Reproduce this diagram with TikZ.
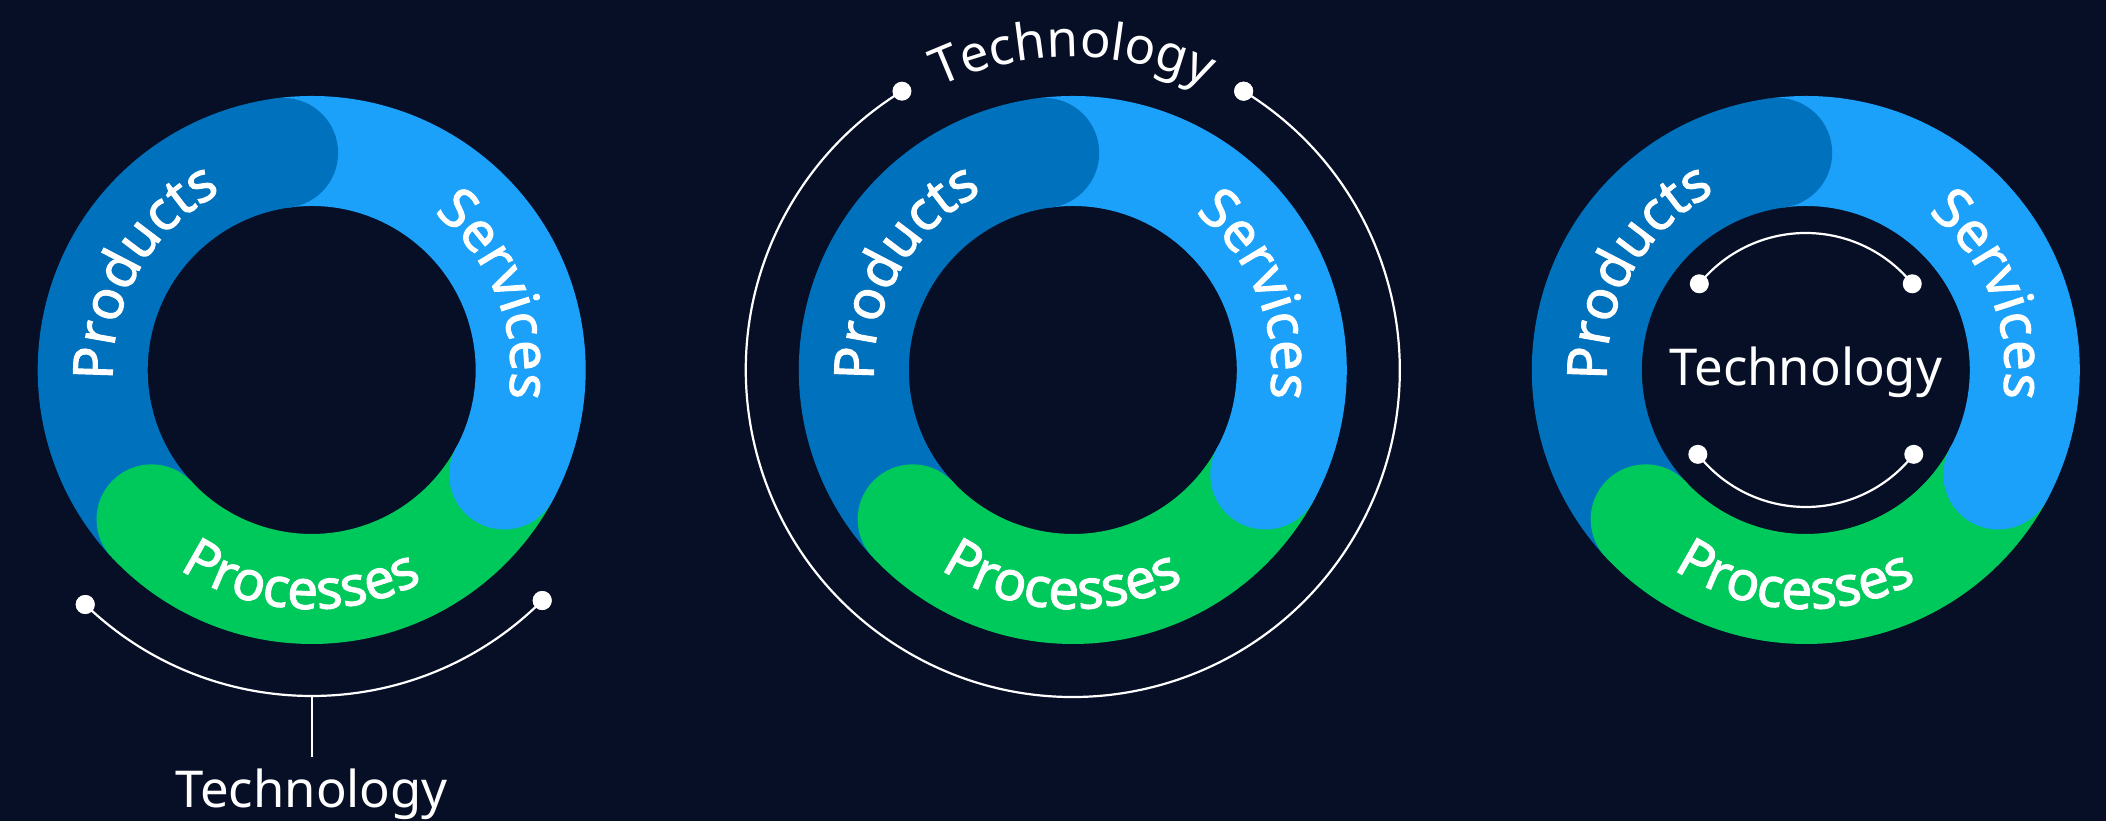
\documentclass[tikz,border=0pt]{standalone}
\usepackage{fontspec}
\setmainfont{Noto Sans}
\newfontfamily\bandfont[FakeBold=1.8]{Noto Sans}
\usetikzlibrary{calc,decorations.text}

\definecolor{bgnavy}{HTML}{070F26}
\definecolor{prodblue}{HTML}{0071BC}
\definecolor{servblue}{HTML}{1CA1FB}
\definecolor{procgreen}{HTML}{00C95B}

\tikzset{
  band/.style={line width=110bp},
  techline/.style={draw=white,line width=2.2bp},
  techdot/.style={circle,fill=white,inner sep=0pt,minimum size=19bp},
  techlabel/.style={text=white,inner sep=0pt,font=\fontsize{51}{60}\selectfont},
  bandtext/.style={decorate,decoration={text along path,text align=center,text color=white,
    text={|\bandfont\fontsize{55}{64}\selectfont|#1}}},
  arctext/.style={decorate,decoration={text along path,text align=center,text color=white,
    text={|\fontsize{51}{60}\selectfont|#1}}}
}

\begin{document}
\begin{tikzpicture}[x=1bp,y=1bp]
% Background
\fill[bgnavy] (0,0) rectangle (2106,821);
\useasboundingbox (0,0) rectangle (2106,821);

% Rings: three bands, round ends on top, labels along the band
\foreach \cx [count=\i] in {311.7,1072.8,1805.8}{
  \coordinate (ring\i) at (\cx,451);
  \draw[band,prodblue] ($(ring\i)+(223:219)$) arc[start angle=223,end angle=97.5,radius=219];
  \draw[band,servblue] ($(ring\i)+(97.5:219)$) arc[start angle=97.5,end angle=-28.5,radius=219];
  \draw[band,procgreen] ($(ring\i)+(-28.5:219)$) arc[start angle=-28.5,end angle=-137,radius=219];
  \fill[prodblue] ($(ring\i)+(97.5:219)$) circle[radius=55];
  \fill[servblue] ($(ring\i)+(-28.5:219)$) circle[radius=55];
  \fill[procgreen] ($(ring\i)+(223:219)$) circle[radius=55];
  \path[bandtext=Products] ($(ring\i)+(210:199)$) arc[start angle=210,end angle=90,radius=199];
  \path[bandtext=Services] ($(ring\i)+(82:199)$) arc[start angle=82,end angle=-38,radius=199];
  \path[bandtext=Processes] ($(ring\i)+(207:239)$) arc[start angle=207,end angle=327,radius=239];
}

% Technology below
\node[techdot] (low1a) at ($(ring1)+(226:326)$) {};
\node[techdot] (low1b) at ($(ring1)+(315:326)$) {};
\coordinate (low1m) at ($(ring1)+(270:326)$);
\draw[techline] (low1a.center) arc[start angle=226,end angle=315,radius=326];
\node[techlabel,anchor=base] (tech1) at ($(ring1)+(0,-438)$) {Technology};
\draw[techline,shorten >=12bp] (low1m) -- (tech1);
\node[techdot] at (low1a) {};
\node[techdot] at (low1b) {};

% Technology around
\node[techdot] (top2a) at ($(ring2)+(121.5:327)$) {};
\node[techdot] (top2b) at ($(ring2)+(58.5:327)$) {};
\draw[techline] (top2b.center) arc[start angle=58.5,end angle=-238.5,radius=327];
\node[techdot] at (top2b) {};
\path[arctext=Technology] ($(ring2)+(150:313)$) arc[start angle=150,end angle=30,radius=313];

% Technology inside
\node[techdot] (in3a) at ($(ring3)+(141:137)$) {};
\node[techdot] (in3b) at ($(ring3)+(39:137)$) {};
\node[techdot] (in3c) at ($(ring3)+(218:137)$) {};
\node[techdot] (in3d) at ($(ring3)+(322:137)$) {};
\draw[techline] (in3a.center) arc[start angle=141,end angle=39,radius=137];
\draw[techline] (in3c.center) arc[start angle=218,end angle=322,radius=137];
\node[techlabel,anchor=base] (tech3) at ($(ring3)+(0,-16)$) {Technology};

\end{tikzpicture}
\end{document}
